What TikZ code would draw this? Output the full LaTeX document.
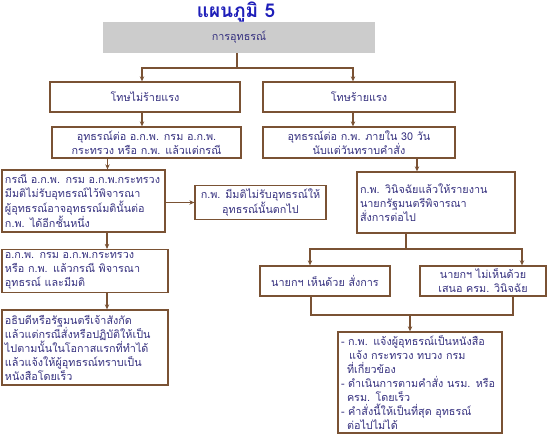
\documentclass[tikz,border=0pt]{standalone}
\usepackage{fontspec}
\newfontfamily\thai[Script=Thai]{Loma}
\usetikzlibrary{arrows.meta, positioning, calc}
\definecolor{framebrown}{RGB}{122,82,52}
\definecolor{inkblue}{RGB}{55,50,128}
\definecolor{titleblue}{RGB}{30,30,185}
\definecolor{headgray}{RGB}{204,204,204}
\tikzset{
  block/.style    = {rectangle, draw=framebrown, line width=1.3pt, fill=white,
                     text=inkblue, font=\thai\fontsize{10.8}{14}\selectfont,
                     align=center, inner sep=3pt},
  lblock/.style   = {block, align=left, text width=#1},
  head/.style     = {rectangle, fill=headgray, text=inkblue,
                     font=\thai\fontsize{10.8}{14}\selectfont},
  arrow/.style    = {-{Stealth[length=5pt,width=4.5pt]}, line width=1.2pt, color=framebrown},
  line/.style     = {line width=1.2pt, color=framebrown},
}
\begin{document}
\begin{tikzpicture}[x=1pt, y=-1pt]
  \useasboundingbox (0,0) rectangle (552,435);
  \node[font=\thai\bfseries\fontsize{19}{22}\selectfont, text=titleblue] (title) at (236,12) {แผนภูมิ 5};
  \node[head, minimum width=272pt, minimum height=31pt] (appeal) at (239,37.5) {การอุทธรณ์};

  \node[block, minimum width=190pt, minimum height=30pt] (minor) at (145,97) {โทษไม่ร้ายแรง};
  \node[block, minimum width=192pt, minimum height=30pt] (grave) at (359,97) {โทษร้ายแรง};
  \node[block, minimum width=189pt, minimum height=31pt] (minorto) at (146.5,142.5)
    {อุทธรณ์ต่อ อ.ก.พ. กรม อ.ก.พ.\\กระทรวง หรือ ก.พ. แล้วแต่กรณี};
  \node[block, minimum width=192pt, minimum height=31pt] (graveto) at (359,142.5)
    {อุทธรณ์ต่อ ก.พ. ภายใน 30 วัน\\นับแต่วันทราบคำสั่ง};

  \node[lblock=157pt, minimum height=62pt] (reject) at (83.5,201)
    {กรณี อ.ก.พ. กรม อ.ก.พ.กระทรวง\\มีมติไม่รับอุทธรณ์ไว้พิจารณา\\ผู้อุทธรณ์อาจอุทธรณ์มตินั้นต่อ\\ก.พ. ได้อีกชั้นหนึ่ง};
  \node[block, minimum width=131pt, minimum height=31pt] (dropped) at (260.5,202.5)
    {ก.พ. มีมติไม่รับอุทธรณ์ให้\\อุทธรณ์นั้นตกไป};
  \node[lblock=152pt, minimum height=61pt] (report) at (436,202.5)
    {ก.พ. วินิจฉัยแล้วให้รายงาน\\นายกรัฐมนตรีพิจารณา\\สั่งการต่อไป};

  \node[lblock=160pt, minimum height=42pt] (decide) at (85,271)
    {อ.ก.พ. กรม อ.ก.พ.กระทรวง\\หรือ ก.พ. แล้วกรณี พิจารณา\\อุทธรณ์ และมีมติ};
  \node[lblock=160pt, minimum height=75pt] (enforce) at (85,347.5)
    {อธิบดีหรือรัฐมนตรีเจ้าสังกัด\\แล้วแต่กรณีสั่งหรือปฏิบัติให้เป็น\\ไปตามนั้นในโอกาสแรกที่ทำได้\\แล้วแจ้งให้ผู้อุทธรณ์ทราบเป็น\\หนังสือโดยเร็ว};

  \node[block, minimum width=130pt, minimum height=30pt] (agree) at (325,281) {นายกฯ เห็นด้วย สั่งการ};
  \node[block, minimum width=126pt, minimum height=30pt] (disagree) at (483,281)
    {นายกฯ ไม่เห็นด้วย\\เสนอ ครม. วินิจฉัย};
  \node[lblock=158pt, minimum height=101pt] (result) at (420,382.5)
    {- ก.พ. แจ้งผู้อุทธรณ์เป็นหนังสือ\\\hspace*{8pt}แจ้ง กระทรวง ทบวง กรม\\\hspace*{6pt}ที่เกี่ยวข้อง\\- ดำเนินการตามคำสั่ง นรม. หรือ\\\hspace*{6pt}ครม. โดยเร็ว\\- คำสั่งนี้ให้เป็นที่สุด อุทธรณ์\\\hspace*{6pt}ต่อไปไม่ได้};

  \coordinate (fork) at (237,68);
  \draw[line] (fork |- appeal.south) -- (fork);
  \draw[arrow] (fork) -| ([xshift=-3pt]minor.north);
  \draw[arrow] (fork) -| ([xshift=-6pt]grave.north);
  \draw[arrow] ([xshift=-3pt]minor.south) -- ([xshift=-3pt]minor.south |- minorto.north);
  \draw[arrow] ([xshift=-6pt]grave.south) -- ([xshift=-6pt]grave.south |- graveto.north);
  \draw[arrow] ([xshift=24pt]reject.north |- minorto.south) -- ([xshift=24pt]reject.north);
  \draw[arrow] (reject.east |- dropped.west) -- (dropped.west);
  \draw[arrow] ([xshift=-19pt]report.north |- graveto.south) -- ([xshift=-19pt]report.north);
  \draw[arrow] ([xshift=22pt]decide.north |- reject.south) -- ([xshift=22pt]decide.north);
  \draw[arrow] ([xshift=22pt]enforce.north |- decide.south) -- ([xshift=22pt]enforce.north);

  \coordinate (pmfork) at (406,249);
  \draw[line] (pmfork |- report.south) -- (pmfork);
  \draw[arrow] (pmfork) -| ([xshift=-15pt]agree.north);
  \draw[arrow] (pmfork) -| ([xshift=39pt]disagree.north);
  \coordinate (join) at (410,315);
  \draw[line] ([xshift=-14pt]agree.south) |- (join);
  \draw[line] ([xshift=30pt]disagree.south) |- (join);
  \draw[arrow] (join) -- (join |- result.north);
\end{tikzpicture}
\end{document}
